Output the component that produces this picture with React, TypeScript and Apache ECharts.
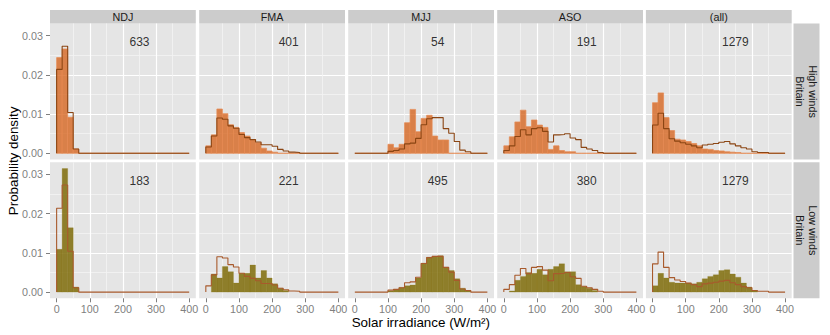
import React, { useEffect, useRef } from 'react';
import * as echarts from 'echarts';

const seasons = ['NDJ', 'FMA', 'MJJ', 'ASO', '(all)'];
const windRows = ['High winds\nBritain', 'Low winds\nBritain'];
const binCount = 24;
const xMax = 400;
const xTicks = [0, 100, 200, 300, 400];
const yTicks = [0, 0.01, 0.02, 0.03];
const highCounts = [633, 401, 54, 191, 1279];
const lowCounts = [183, 221, 495, 380, 1279];

// reference outline (all winds) per season
const outlineNDJ = [0.0214, 0.0273, 0.0104, 0.0011, 0, 0, 0, 0, 0, 0, 0, 0, 0, 0, 0, 0, 0, 0, 0, 0, 0, 0, 0, 0];
const outlineFMA = [0.0016, 0.0044, 0.009, 0.0087, 0.007, 0.0064, 0.0048, 0.004, 0.0035, 0.0029, 0.0022, 0.0022, 0.0018, 0.001, 0.0006, 0.0003, 0.0002, 0, 0, 0, 0, 0, 0, 0];
const outlineMJJ = [0, 0, 0, 0, 0, 0, 0.0005, 0.0007, 0.0011, 0.0024, 0.0026, 0.0038, 0.0073, 0.0088, 0.0091, 0.0091, 0.0063, 0.0051, 0.003, 0.0008, 0.0004, 0, 0, 0];
const outlineASO = [0.0007, 0.0019, 0.0043, 0.006, 0.0047, 0.0063, 0.0065, 0.0056, 0.0029, 0.0047, 0.0048, 0.005, 0.0039, 0.0035, 0.0015, 0.0011, 0.0007, 0.0002, 0, 0, 0, 0, 0, 0];
const outlineAll = [0.0072, 0.0102, 0.0063, 0.0037, 0.0031, 0.0027, 0.0023, 0.0019, 0.0014, 0.0021, 0.0023, 0.0025, 0.0028, 0.003, 0.0024, 0.0019, 0.0014, 0.0011, 0.0004, 0.0002, 0.0002, 0, 0, 0];

// high winds histograms
const highNDJ = [0.0244, 0.0266, 0.0092, 0.0011, 0, 0, 0, 0, 0, 0, 0, 0, 0, 0, 0, 0, 0, 0, 0, 0, 0, 0, 0, 0];
const highFMA = [0.0019, 0.0047, 0.0113, 0.0101, 0.0073, 0.0066, 0.0053, 0.0044, 0.0034, 0.0027, 0.0013, 0.0006, 0.0003, 0, 0, 0, 0, 0, 0, 0, 0, 0, 0, 0];
const highMJJ = [0, 0, 0, 0, 0, 0, 0.0023, 0.0014, 0.0023, 0.0078, 0.0112, 0.0055, 0.0089, 0.0097, 0.0044, 0.0034, 0.0034, 0, 0, 0, 0, 0, 0, 0];
const highASO = [0.0019, 0.0042, 0.008, 0.011, 0.0068, 0.0085, 0.0072, 0.0066, 0.001, 0.0019, 0.0007, 0.0004, 0.0004, 0, 0, 0, 0, 0, 0, 0, 0, 0, 0, 0];
const highAll = [0.0129, 0.0154, 0.0091, 0.0058, 0.0036, 0.0034, 0.003, 0.0025, 0.0019, 0.0011, 0.001, 0.0007, 0.0006, 0.0004, 0.0003, 0.0002, 0, 0, 0, 0, 0, 0, 0, 0];

// low winds histograms
const lowNDJ = [0.0109, 0.0315, 0.0164, 0.0013, 0, 0, 0, 0, 0, 0, 0, 0, 0, 0, 0, 0, 0, 0, 0, 0, 0, 0, 0, 0];
const lowFMA = [0, 0.0046, 0.0036, 0.0065, 0.0052, 0.0023, 0.0048, 0.0048, 0.0069, 0.0036, 0.0055, 0.0036, 0.0021, 0.001, 0.0004, 0, 0, 0, 0, 0, 0, 0, 0, 0];
const lowMJJ = [0, 0, 0, 0, 0, 0, 0.0003, 0.0006, 0.0012, 0.0016, 0.0018, 0.0036, 0.0074, 0.0089, 0.0091, 0.0093, 0.0063, 0.0055, 0.0034, 0.001, 0.0003, 0, 0, 0];
const lowASO = [0, 0.0003, 0.003, 0.004, 0.005, 0.0048, 0.0058, 0.0044, 0.0058, 0.0065, 0.0072, 0.0052, 0.0052, 0.0019, 0.0014, 0.001, 0.0004, 0, 0, 0, 0, 0, 0, 0];
const lowAll = [0.0016, 0.0048, 0.0036, 0.0025, 0.0023, 0.0023, 0.0023, 0.0021, 0.0025, 0.0034, 0.004, 0.0044, 0.0055, 0.0057, 0.0046, 0.0038, 0.0023, 0.0013, 0.0003, 0, 0, 0, 0, 0];

const outlines = [outlineNDJ, outlineFMA, outlineMJJ, outlineASO, outlineAll];
const highFills = [highNDJ, highFMA, highMJJ, highASO, highAll];
const lowFills = [lowNDJ, lowFMA, lowMJJ, lowASO, lowAll];

const FONT = '"Liberation Sans", Arial, Helvetica, sans-serif';
const gridLefts = [50, 199.2, 348.2, 497.2, 645.9];
const gridWidth = 145.8;
const gridTops = [23.5, 162.3];
const gridHeight = 136;
const stripTop = 10;
const rightStripX = 793.5;
const rightStripW = 26;

function buildOption() {
  const binW = xMax / binCount;
  const grids: any[] = [];
  const xAxes: any[] = [];
  const yAxes: any[] = [];
  const series: any[] = [];
  const graphics: any[] = [];

  const minor = {
    minorTick: { show: true, splitNumber: 2, length: 0, lineStyle: { width: 0, opacity: 0 } },
    minorSplitLine: { show: true, lineStyle: { color: '#F4F4F4', width: 0.8 } },
  };

  for (let r = 0; r < 2; r++) {
    for (let c = 0; c < 5; c++) {
      const idx = r * 5 + c;
      grids.push({
        left: gridLefts[c], top: gridTops[r], width: gridWidth, height: gridHeight,
        show: true, backgroundColor: '#E5E5E5', borderWidth: 0, containLabel: false,
        outerBoundsMode: 'none',
      });
      xAxes.push({
        type: 'value', gridIndex: idx, min: -20, max: 420, splitNumber: 4,
        axisLine: { show: false, onZero: false },
        axisTick: { show: r === 1, length: 4, lineStyle: { color: '#7F7F7F', width: 1 }, customValues: xTicks },
        axisLabel: { show: r === 1, color: '#7F7F7F', fontSize: 10.75, fontFamily: FONT, margin: 5, customValues: xTicks, formatter: (v: number) => String(v) },
        splitLine: { show: true, showMinLine: false, showMaxLine: false, lineStyle: { color: '#FFFFFF', width: 1.2 } },
        ...minor,
      });
      yAxes.push({
        type: 'value', gridIndex: idx, min: -0.00158, max: 0.0331, splitNumber: 4,
        axisLine: { show: false, onZero: false },
        axisTick: { show: c === 0, length: 4, lineStyle: { color: '#7F7F7F', width: 1 }, customValues: yTicks },
        axisLabel: { show: c === 0, color: '#7F7F7F', fontSize: 10.75, fontFamily: FONT, margin: 7, customValues: yTicks, formatter: (v: number) => v.toFixed(2) },
        splitLine: { show: true, showMinLine: false, showMaxLine: false, lineStyle: { color: '#FFFFFF', width: 1.2 } },
        ...minor,
      });

      const fills = r === 0 ? highFills[c] : lowFills[c];
      const barData = fills
        .map((h, k) => [k * binW, (k + 1) * binW, h])
        .filter((d) => r === 0 || d[2] > 0);
      const fillColor = r === 0 ? 'rgba(214,100,30,0.78)' : 'rgba(122,102,0,0.82)';
      const strokeColor = r === 0 ? 'rgba(230,140,85,0.8)' : 'rgba(140,120,20,0.5)';
      series.push({
        type: 'custom', xAxisIndex: idx, yAxisIndex: idx, data: barData, silent: true, clip: true, z: 2,
        encode: { x: [0, 1], y: 2 },
        renderItem: (params: any, api: any) => {
          const p0 = api.coord([api.value(0), api.value(2)]);
          const p1 = api.coord([api.value(1), 0]);
          return {
            type: 'rect',
            shape: { x: p0[0], y: p0[1], width: p1[0] - p0[0], height: p1[1] - p0[1] },
            style: { fill: fillColor, stroke: strokeColor, lineWidth: r === 0 ? 0.9 : 0.5 },
          };
        },
      });

      const ol = outlines[c];
      const lineData = [[0, 0], ...ol.map((h, k) => [k * binW, h]), [xMax, ol[ol.length - 1]]];
      series.push({
        type: 'line', xAxisIndex: idx, yAxisIndex: idx, data: lineData, step: 'end', symbol: 'none',
        silent: true, z: 3,
        lineStyle: { color: r === 0 ? '#8B4513' : '#A85A2C', width: 1.1 },
      });

      const count = r === 0 ? highCounts[c] : lowCounts[c];
      series.push({
        type: 'scatter', xAxisIndex: idx, yAxisIndex: idx, data: [[250, 0.0284]], symbolSize: 1,
        silent: true, z: 4, itemStyle: { color: 'rgba(0,0,0,0)' },
        label: { show: true, position: 'inside', formatter: String(count), color: '#000000', fontSize: 12, fontFamily: FONT },
      });
    }
  }

  // top strips
  for (let c = 0; c < 5; c++) {
    graphics.push({
      type: 'rect', shape: { x: gridLefts[c], y: stripTop, width: gridWidth, height: gridTops[0] - stripTop },
      style: { fill: '#CCCCCC' }, silent: true,
    });
    graphics.push({
      type: 'text', x: gridLefts[c] + gridWidth / 2, y: (stripTop + gridTops[0]) / 2 + 0.5, silent: true,
      style: { text: seasons[c], fill: '#1A1A1A', fontSize: 10.75, fontFamily: FONT, align: 'center', verticalAlign: 'middle' },
    });
  }
  // right strips
  for (let r = 0; r < 2; r++) {
    graphics.push({
      type: 'rect', shape: { x: rightStripX, y: gridTops[r], width: rightStripW, height: gridHeight },
      style: { fill: '#CCCCCC' }, silent: true,
    });
    graphics.push({
      type: 'text', x: rightStripX + rightStripW / 2, y: gridTops[r] + gridHeight / 2, rotation: -Math.PI / 2, silent: true,
      style: { text: windRows[r], fill: '#1A1A1A', fontSize: 10.75, lineHeight: 13.5, fontFamily: FONT, align: 'center', verticalAlign: 'middle' },
    });
  }
  // axis titles
  graphics.push({
    type: 'text', x: 13, y: (gridTops[0] + gridTops[1] + gridHeight) / 2, rotation: Math.PI / 2, silent: true,
    style: { text: 'Probability density', fill: '#000000', fontSize: 13.4, fontFamily: FONT, align: 'center', verticalAlign: 'middle' },
  });
  graphics.push({
    type: 'text', x: (gridLefts[0] + gridLefts[4] + gridWidth) / 2, y: 322, silent: true,
    style: { text: 'Solar irradiance (W/m²)', fill: '#000000', fontSize: 13.4, fontFamily: FONT, align: 'center', verticalAlign: 'middle' },
  });

  return {
    animation: false,
    backgroundColor: '#FFFFFF',
    textStyle: { fontFamily: FONT },
    tooltip: { show: false },
    grid: grids,
    xAxis: xAxes,
    yAxis: yAxes,
    series,
    graphic: { elements: graphics },
  };
}

export default function App() {
  const ref = useRef<HTMLDivElement>(null);
  useEffect(() => {
    document.body.style.margin = '0';
    if (!ref.current) return;
    const chart = echarts.init(ref.current, undefined, { renderer: 'svg' });
    chart.setOption(buildOption() as any);
    return () => chart.dispose();
  }, []);
  return (
    <div style={{ position: 'fixed', left: 0, top: 0, width: 830, height: 335, background: '#FFFFFF' }}>
      <div ref={ref} style={{ width: 830, height: 335 }} />
    </div>
  );
}
